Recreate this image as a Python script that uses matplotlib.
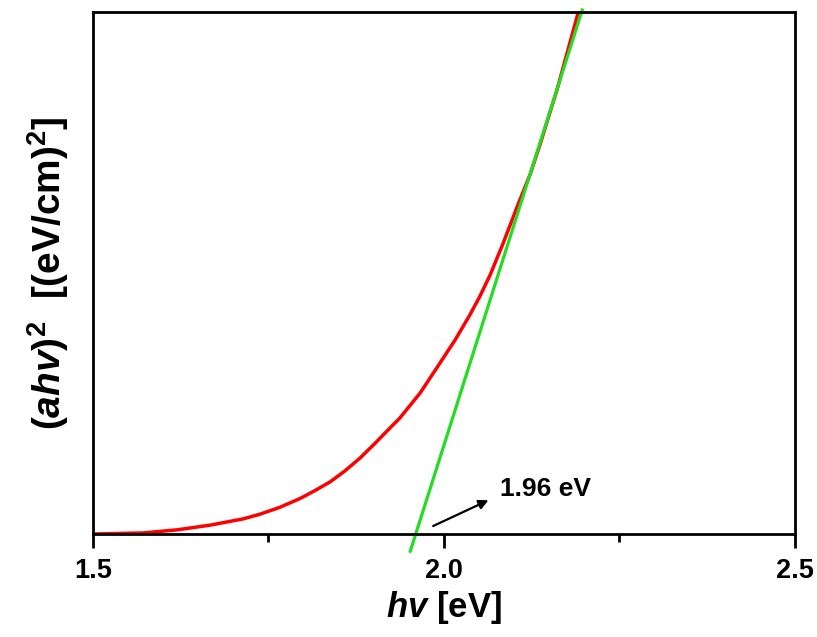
import matplotlib.pyplot as plt
from matplotlib.ticker import MultipleLocator

# Tauc plot values
hv = [1.500, 1.571, 1.620, 1.667, 1.714, 1.738, 1.766, 1.795, 1.816, 1.838,
      1.859, 1.880, 1.902, 1.923, 1.937, 1.966, 1.994, 2.016, 2.037, 2.051,
      2.066, 2.084, 2.104, 2.123, 2.137, 2.151, 2.161, 2.191]
ahv2 = [0.000, 0.002, 0.008, 0.017, 0.029, 0.038, 0.051, 0.068, 0.083, 0.100,
        0.121, 0.145, 0.174, 0.203, 0.222, 0.270, 0.327, 0.372, 0.420, 0.455,
        0.497, 0.556, 0.626, 0.690, 0.747, 0.808, 0.851, 0.998]

# linear fit (extrapolated to the band gap)
fit_x = [1.952, 2.197]
fit_y = [-0.033, 1.004]

gap_label = "1.96 eV"
arrow_tail = (1.981, 0.013)
arrow_head = (2.067, 0.067)
label_pos = (2.080, 0.086)

plt.rcParams['font.family'] = ['Liberation Sans', 'DejaVu Sans']
plt.rcParams['font.weight'] = 'bold'
plt.rcParams['mathtext.fontset'] = 'custom'
plt.rcParams['mathtext.it'] = 'Liberation Sans:italic:bold'
plt.rcParams['mathtext.bf'] = 'Liberation Sans:bold'
plt.rcParams['mathtext.rm'] = 'Liberation Sans:bold'

fig = plt.figure(figsize=(8.17, 6.37), dpi=100)
ax = fig.add_axes([0.1138, 0.1617, 0.973 - 0.1138, 0.981 - 0.1617])

ax.plot(hv, ahv2, color='#ff0000', lw=2.5)
ax.plot(fit_x, fit_y, color='#22dd22', lw=2.3, clip_on=False)

ax.annotate("", xy=arrow_head, xytext=arrow_tail,
            arrowprops=dict(arrowstyle='-|>', color='black', lw=1.6, mutation_scale=14))
ax.text(label_pos[0], label_pos[1], gap_label, fontsize=19, fontweight='bold',
        ha='left', va='center')

ax.set_xlim(1.5, 2.5)
ax.set_ylim(0, 1)
ax.xaxis.set_major_locator(MultipleLocator(0.5))
ax.xaxis.set_minor_locator(MultipleLocator(0.25))
ax.set_yticks([])
ax.tick_params(axis='x', which='major', direction='out', length=10, width=2,
               labelsize=19.5, pad=7)
ax.tick_params(axis='x', which='minor', direction='out', length=6, width=2)
for lbl in ax.get_xticklabels():
    lbl.set_fontweight('bold')
for s in ax.spines.values():
    s.set_linewidth(2)

ax.set_xlabel(r"$hv$ [eV]", fontsize=25, fontweight='bold', labelpad=4)
ax.set_ylabel(r"($ahv$)$^2$  [(eV/cm)$^2$]", fontsize=28, fontweight='bold', labelpad=16)

plt.savefig("out.png", dpi=100)
